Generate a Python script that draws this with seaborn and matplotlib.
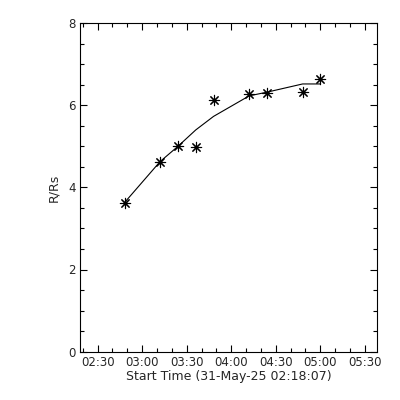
import matplotlib
matplotlib.use("Agg")
import matplotlib.pyplot as plt
import matplotlib.dates as mdates
import seaborn as sns
import pandas as pd
import numpy as np

# Data
times = ["02:48:07", "03:12:07", "03:24:07", "03:36:07", "03:48:07",
         "04:12:07", "04:24:07", "04:48:07", "05:00:07"]
heights = [3.63, 4.63, 5.00, 4.98, 6.12, 6.28, 6.31, 6.33, 6.65]
fit_heights = [3.63, 4.63, 5.00, 5.40, 5.73, 6.23, 6.32, 6.52, 6.52]
x_start = "2025-05-31 02:18:07"
x_end = "2025-05-31 05:38:07"

df = pd.DataFrame({
    "time": pd.to_datetime(["2025-05-31 " + t for t in times]),
    "height": heights,
    "fit": fit_heights,
})

sns.set_theme(style="ticks")
plt.rcParams['font.family'] = ['DejaVu Sans']

fig = plt.figure(figsize=(4, 4), dpi=100)
ax = fig.add_axes([0.2, 0.121, 0.742, 0.821])

sns.lineplot(data=df, x="time", y="fit", ax=ax, color="black", linewidth=0.8)
sns.scatterplot(data=df, x="time", y="height", ax=ax, marker=(8, 2, 0),
                s=55, color="black", linewidth=0.8, edgecolor="black")

ax.set_xlim(pd.Timestamp(x_start), pd.Timestamp(x_end))
ax.set_ylim(0, 8)
ax.xaxis.set_major_locator(mdates.MinuteLocator(byminute=[0, 30]))
ax.xaxis.set_minor_locator(mdates.MinuteLocator(byminute=[10, 20, 40, 50]))
ax.xaxis.set_major_formatter(mdates.DateFormatter("%H:%M"))
ax.set_yticks([0, 2, 4, 6, 8])
ax.set_yticks(np.arange(0, 8.01, 0.5), minor=True)

for s in ax.spines.values():
    s.set_visible(True)
    s.set_linewidth(0.8)
    s.set_color("black")

ax.tick_params(which="both", direction="in", top=True, right=True,
               color="black", width=0.8, labelsize=8.5, pad=3)
ax.tick_params(which="major", length=5)
ax.tick_params(which="minor", length=3)

ax.set_xlabel("Start Time (31-May-25 02:18:07)", fontsize=9, labelpad=1)
ax.set_ylabel("R/Rs", fontsize=9, labelpad=6)
ax.set_facecolor("white")
fig.patch.set_facecolor("white")

fig.savefig("out.png", dpi=100)
